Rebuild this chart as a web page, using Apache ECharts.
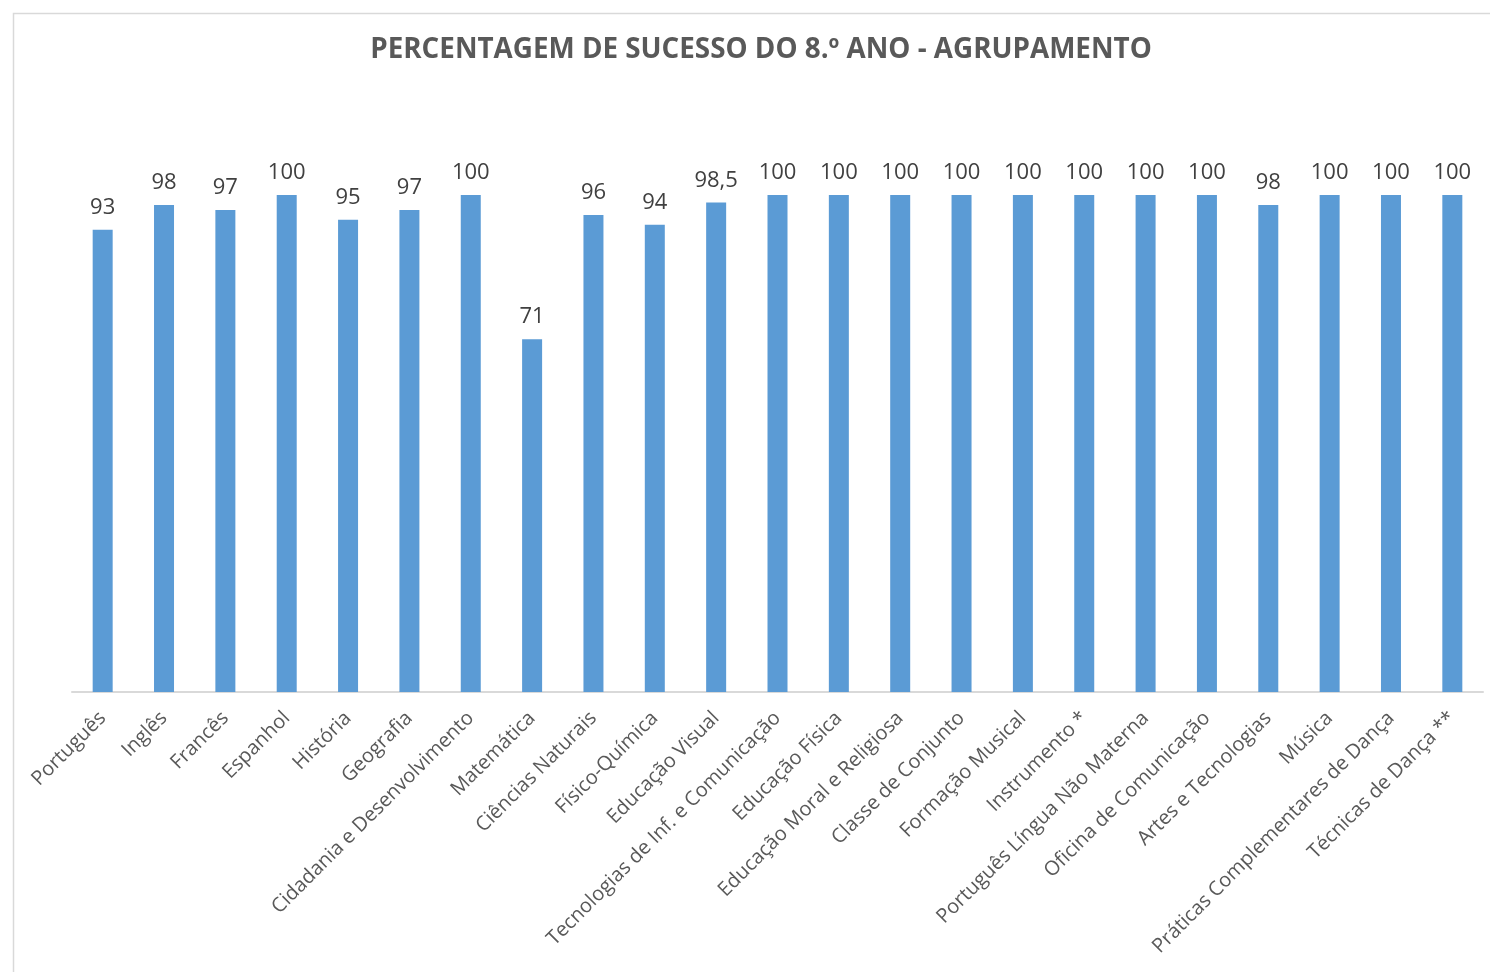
<!DOCTYPE html>
<html>
<head>
<meta charset="utf-8">
<script src="https://cdn.jsdelivr.net/npm/echarts@6/dist/echarts.min.js"></script>
<style>
html,body{margin:0;padding:0;background:#fff;}
#chart{width:1490px;height:972px;}
</style>
</head>
<body>
<div id="chart"></div>
<script>
const titleText = "PERCENTAGEM DE SUCESSO DO 8.º ANO - AGRUPAMENTO";
const categories = ["Português","Inglês","Francês","Espanhol","História","Geografia","Cidadania e Desenvolvimento","Matemática","Ciências Naturais","Físico-Química","Educação Visual","Tecnologias de Inf. e Comunicação","Educação Física","Educação Moral e Religiosa","Classe de Conjunto","Formação Musical","Instrumento *","Português Língua Não Materna","Oficina de Comunicação","Artes e Tecnologias","Música","Práticas Complementares de Dança","Técnicas de Dança **"];
const values = [93,98,97,100,95,97,100,71,96,94,98.5,100,100,100,100,100,100,100,100,98,100,100,100];

const chart = echarts.init(document.getElementById('chart'));
chart.setOption({
  animation:false,
  backgroundColor:'#fff',
  graphic:[{type:'rect',left:11,top:11,shape:{width:1500,height:1000},style:{fill:'none',stroke:'#d9d9d9',lineWidth:1.5},silent:true}],
  title:{text:titleText,left:756,top:31,textAlign:'center',textStyle:{fontFamily:'Open Sans',fontWeight:'bold',fontSize:27.8,color:'#595959'}},
  grid:{left:72,right:7,top:195,bottom:280,containLabel:false},
  xAxis:{type:'category',data:categories,
    axisLine:{lineStyle:{color:'#d9d9d9',width:2}},
    axisTick:{show:false},
    axisLabel:{rotate:45,interval:0,margin:23,fontFamily:'Open Sans',fontSize:20,color:'#595959'}},
  yAxis:{type:'value',min:0,max:100,show:false,splitLine:{show:false}},
  series:[{type:'bar',data:values,barWidth:20,itemStyle:{color:'#5b9bd5'},
    label:{show:true,position:'top',distance:11,fontFamily:'Open Sans',fontSize:22,color:'#404040',
      formatter:p=>String(p.value).replace('.',',')}}]
});
</script>
</body>
</html>
